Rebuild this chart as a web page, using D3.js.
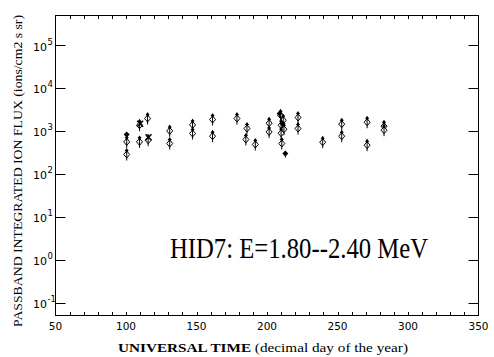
<!DOCTYPE html>
<html><head><meta charset="utf-8">
<script src="https://cdn.jsdelivr.net/npm/d3@7"></script>
<style>body{margin:0;background:#fff}svg{display:block}</style>
</head><body>
<script>
// Data
const openDays = [100.5,100.5,109.6,109.6,115.3,115.7,131,131,147.2,147.2,161.4,161.4,178.7,185.8,185,191.7,201.5,201.5,209.6,211.5,210,212,210,210.5,222,222,239.5,253,253,271,271,283,283];
const openFlux = [564,286,1380,564,1980,617,1018,517,1404,885,1876,765,1980,1157,641,490,1540,963,2365,1807,1380,1114,899,517,2090,1157,555,1460,765,1620,472,1310,1056];
const filledDays = [100.5,213,209,211];
const filledFlux = [840,302,2600,1500];
const crossDays = [110,116];
const crossFlux = [1500,720];
const xTicksMajor = [50,100,150,200,250,300,350];
const yDecades = [-1,0,1,2,3,4,5];
const title = "HID7: E=1.80--2.40 MeV";

const W=494,H=357;
const svg=d3.select("body").append("svg").attr("width",W).attr("height",H);
const x=d3.scaleLinear().domain([50,350]).range([55.5,478.5]);
const y=d3.scaleLog().domain([Math.pow(10,-1.3),Math.pow(10,5.7)]).range([315.5,15.5]);

// frame
svg.append("rect").attr("x",55.5).attr("y",15.5).attr("width",423).attr("height",300)
  .attr("fill","none").attr("stroke","#000").attr("stroke-width",1);

// x minor/major ticks
const xt=d3.range(60,350,10);
const g=svg.append("g").attr("stroke","#000").attr("stroke-width",1);
xt.forEach(d=>{
  const px=Math.round(x(d))+0.5;
  g.append("line").attr("x1",px).attr("x2",px).attr("y1",315.5).attr("y2",312);
  g.append("line").attr("x1",px).attr("x2",px).attr("y1",15.5).attr("y2",19);
});
yDecades.forEach(e=>{
  const py=Math.round(y(Math.pow(10,e)))+0.5;
  g.append("line").attr("x1",55.5).attr("x2",65.5).attr("y1",py).attr("y2",py);
  g.append("line").attr("x1",468.5).attr("x2",478.5).attr("y1",py).attr("y2",py);
});

// x tick labels
xTicksMajor.forEach(d=>{
  svg.append("text").attr("x",x(d)).attr("y",330).attr("text-anchor","middle")
    .attr("font-family","DejaVu Sans").attr("font-size",10.5).text(d);
});
// y tick labels
yDecades.forEach(e=>{
  const py=y(Math.pow(10,e));
  svg.append("text").attr("x",47).attr("y",py+5).attr("text-anchor","end")
    .attr("font-family","DejaVu Sans").attr("font-size",11).text("10");
  svg.append("text").attr("x",47.5).attr("y",py-1).attr("text-anchor","start")
    .attr("font-family","DejaVu Sans").attr("font-size",8.5).text(e);
});

// axis titles
const xt1=svg.append("text").attr("x",118).attr("y",352)
  .attr("font-family","Liberation Serif").attr("font-size",13.5)
  .attr("textLength",290).attr("lengthAdjust","spacingAndGlyphs");
xt1.append("tspan").attr("font-weight","bold").text("UNIVERSAL TIME");
xt1.append("tspan").text("  (decimal day of the year)");

svg.append("text").attr("transform","translate(22,327) rotate(-90)")
  .attr("font-family","Liberation Serif").attr("font-size",12.5)
  .attr("textLength",312).attr("lengthAdjust","spacingAndGlyphs")
  .text("PASSBAND INTEGRATED ION FLUX (ions/cm2 s sr)");

// annotation
svg.append("text").attr("x",170).attr("y",258)
  .attr("font-family","Liberation Serif").attr("font-size",29)
  .attr("textLength",258).attr("lengthAdjust","spacingAndGlyphs").text(title);

// markers
const mk=svg.append("g");
openDays.forEach((d,i)=>{
  const cx=x(d), cy=y(openFlux[i]);
  mk.append("line").attr("x1",cx).attr("x2",cx).attr("y1",cy-6).attr("y2",cy+6)
    .attr("stroke","#000").attr("stroke-width",1);
  mk.append("path").attr("d",`M${cx},${cy-3.5}L${cx+3},${cy}L${cx},${cy+3.5}L${cx-3},${cy}Z`)
    .attr("fill","#fff").attr("stroke","#000").attr("stroke-width",1);
  mk.append("path").attr("d",`M${cx},${cy-6}L${cx+2},${cy-4}L${cx},${cy-2}L${cx-2},${cy-4}Z`)
    .attr("fill","#000");
  mk.append("line").attr("x1",cx).attr("x2",cx).attr("y1",cy-3.5).attr("y2",cy+3.5)
    .attr("stroke","#000").attr("stroke-width",1);
});
filledDays.forEach((d,i)=>{
  const cx=x(d), cy=y(filledFlux[i]);
  mk.append("path").attr("d",`M${cx},${cy-3}L${cx+3},${cy}L${cx},${cy+3}L${cx-3},${cy}Z`).attr("fill","#000");
  mk.append("line").attr("x1",cx).attr("x2",cx).attr("y1",cy).attr("y2",cy+4).attr("stroke","#000");
});
crossDays.forEach((d,i)=>{
  const cx=x(d), cy=y(crossFlux[i]);
  mk.append("path").attr("d",`M${cx-3},${cy-3}L${cx+3},${cy+3}M${cx+3},${cy-3}L${cx-3},${cy+3}`)
    .attr("stroke","#000").attr("stroke-width",1.5);
});
</script>
</body></html>
